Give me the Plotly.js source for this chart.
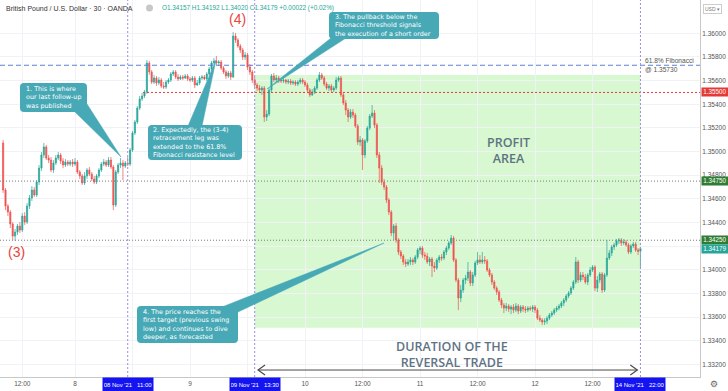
<!DOCTYPE html>
<html><head><meta charset="utf-8">
<script src="https://cdn.plot.ly/plotly-3.0.1.min.js"></script>
<style>html,body{margin:0;padding:0;background:#fff;}#chart{width:728px;height:391px;}</style>
</head><body><div id="chart"></div>
<script>
// 30-minute GBP/USD candles, first bar = 07 Nov 2021 (bar 0 = 08 Nov 00:00)
const openP = [
1.35073,1.34675,1.34539,1.34488,1.34387,1.34285,1.34319,1.34370,1.34336,1.34454,
1.34404,1.34539,1.34607,1.34675,1.34633,1.34742,1.34860,1.34971,1.35039,1.34945,
1.34928,1.34844,1.34903,1.34945,1.34971,1.34920,1.34886,1.34911,1.34894,1.34911,
1.34894,1.34911,1.34827,1.34793,1.34734,1.34793,1.34844,1.34810,1.34768,1.34742,
1.34793,1.34844,1.34894,1.34911,1.34886,1.34928,1.34869,1.34548,1.34827,1.34886,
1.34903,1.34877,1.34903,1.34894,1.35013,1.35157,1.35250,1.35368,1.35445,1.35470,
1.35504,1.35749,1.35673,1.35588,1.35622,1.35580,1.35605,1.35554,1.35546,1.35588,
1.35605,1.35656,1.35673,1.35631,1.35614,1.35631,1.35622,1.35639,1.35614,1.35605,
1.35622,1.35563,1.35580,1.35622,1.35631,1.35614,1.35656,1.35698,1.35749,1.35766,
1.35749,1.35757,1.35706,1.35673,1.35639,1.35665,1.35631,1.35977,1.35944,1.35893,
1.35859,1.35799,1.35817,1.35715,1.35673,1.35605,1.35563,1.35537,1.35521,1.35537,
1.35292,1.35317,1.35521,1.35639,1.35605,1.35622,1.35605,1.35597,1.35605,1.35588,
1.35597,1.35580,1.35588,1.35571,1.35588,1.35605,1.35588,1.35563,1.35521,1.35479,
1.35504,1.35537,1.35605,1.35648,1.35622,1.35571,1.35537,1.35554,1.35521,1.35537,
1.35605,1.35622,1.35479,1.35411,1.35351,1.35292,1.35334,1.35309,1.35216,1.35081,
1.35098,1.34971,1.35090,1.35199,1.35300,1.35326,1.35225,1.34971,1.34860,1.34742,
1.34700,1.34590,1.34488,1.34311,1.34370,1.34252,1.34150,1.34116,1.34066,1.34049,
1.34066,1.34083,1.34066,1.34108,1.34167,1.34184,1.34125,1.34116,1.34066,1.34091,
1.34032,1.34015,1.34083,1.34108,1.34099,1.34150,1.34184,1.34227,1.34268,1.34083,
1.33913,1.33761,1.33829,1.33913,1.33930,1.33981,1.33888,1.33956,1.34058,1.34083,
1.34066,1.34083,1.34075,1.33998,1.33956,1.33896,1.33845,1.33812,1.33744,1.33702,
1.33676,1.33693,1.33668,1.33685,1.33659,1.33693,1.33651,1.33685,1.33668,1.33659,
1.33676,1.33668,1.33685,1.33659,1.33591,1.33575,1.33558,1.33567,1.33591,1.33617,
1.33634,1.33659,1.33676,1.33693,1.33719,1.33744,1.33778,1.33804,1.33845,1.33896,
1.34066,1.33913,1.33956,1.33939,1.33896,1.33956,1.33998,1.34023,1.33845,1.33913,
1.33964,1.33829,1.33956,1.34099,1.34142,1.34193,1.34210,1.34244,1.34252,1.34227,
1.34235,1.34210,1.34150,1.34201,1.34218,1.34167,1.34157
];
const highP = [
1.35098,1.34691,1.34556,1.34505,1.34404,1.34345,1.34387,1.34404,1.34480,1.34488,
1.34565,1.34633,1.34708,1.34700,1.34759,1.34886,1.34996,1.35073,1.35056,1.34971,
1.34954,1.34928,1.34971,1.34996,1.34988,1.34945,1.34937,1.34928,1.34928,1.34937,
1.34945,1.34928,1.34844,1.34810,1.34827,1.34860,1.34869,1.34827,1.34793,1.34810,
1.34860,1.34911,1.34937,1.34928,1.34954,1.34954,1.34886,1.34844,1.34903,1.34945,
1.34928,1.34920,1.34954,1.35030,1.35174,1.35267,1.35385,1.35470,1.35496,1.35521,
1.35774,1.35766,1.35690,1.35648,1.35639,1.35631,1.35622,1.35588,1.35605,1.35622,
1.35673,1.35690,1.35690,1.35656,1.35648,1.35648,1.35656,1.35656,1.35631,1.35639,
1.35639,1.35605,1.35639,1.35648,1.35648,1.35673,1.35715,1.35766,1.35791,1.35808,
1.35774,1.35774,1.35723,1.35690,1.35682,1.35682,1.36011,1.36003,1.35960,1.35910,
1.35876,1.35842,1.35834,1.35740,1.35690,1.35631,1.35580,1.35563,1.35554,1.35554,
1.35351,1.35537,1.35656,1.35665,1.35648,1.35639,1.35622,1.35622,1.35614,1.35614,
1.35614,1.35605,1.35605,1.35605,1.35622,1.35622,1.35605,1.35580,1.35537,1.35529,
1.35554,1.35622,1.35673,1.35665,1.35639,1.35588,1.35571,1.35571,1.35554,1.35631,
1.35639,1.35639,1.35496,1.35436,1.35368,1.35360,1.35360,1.35326,1.35233,1.35131,
1.35114,1.35106,1.35216,1.35317,1.35394,1.35351,1.35242,1.34996,1.34886,1.34768,
1.34717,1.34607,1.34505,1.34387,1.34396,1.34268,1.34167,1.34133,1.34091,1.34091,
1.34108,1.34099,1.34125,1.34184,1.34201,1.34201,1.34150,1.34142,1.34108,1.34108,
1.34066,1.34099,1.34125,1.34133,1.34167,1.34201,1.34244,1.34294,1.34285,1.34099,
1.33930,1.33871,1.33930,1.33956,1.34066,1.33998,1.33981,1.34075,1.34150,1.34125,
1.34150,1.34116,1.34091,1.34015,1.33973,1.33913,1.33862,1.33829,1.33761,1.33719,
1.33719,1.33710,1.33702,1.33710,1.33719,1.33710,1.33702,1.33702,1.33693,1.33693,
1.33693,1.33702,1.33702,1.33676,1.33617,1.33591,1.33591,1.33608,1.33634,1.33651,
1.33676,1.33693,1.33710,1.33736,1.33761,1.33795,1.33820,1.33862,1.33913,1.34108,
1.34083,1.33981,1.33981,1.33964,1.33973,1.34023,1.34040,1.34040,1.33947,1.33981,
1.33981,1.33973,1.34252,1.34167,1.34210,1.34227,1.34260,1.34268,1.34268,1.34260,
1.34252,1.34227,1.34218,1.34235,1.34235,1.34184,1.34192
];
const lowP = [
1.34650,1.34505,1.34454,1.34353,1.34252,1.34244,1.34294,1.34311,1.34319,1.34379,
1.34387,1.34514,1.34582,1.34616,1.34616,1.34717,1.34836,1.34945,1.34928,1.34903,
1.34827,1.34819,1.34886,1.34928,1.34894,1.34860,1.34869,1.34877,1.34877,1.34869,
1.34877,1.34810,1.34768,1.34717,1.34717,1.34768,1.34793,1.34751,1.34725,1.34725,
1.34776,1.34827,1.34877,1.34869,1.34869,1.34852,1.34505,1.34531,1.34810,1.34860,
1.34759,1.34860,1.34877,1.34877,1.34996,1.35140,1.35233,1.35351,1.35428,1.35453,
1.35487,1.35648,1.35571,1.35571,1.35554,1.35563,1.35537,1.35529,1.35529,1.35571,
1.35588,1.35639,1.35614,1.35597,1.35605,1.35605,1.35614,1.35597,1.35588,1.35588,
1.35537,1.35554,1.35563,1.35605,1.35605,1.35597,1.35639,1.35682,1.35732,1.35732,
1.35723,1.35690,1.35656,1.35614,1.35622,1.35605,1.35622,1.35919,1.35876,1.35834,
1.35774,1.35774,1.35690,1.35648,1.35580,1.35537,1.35513,1.35496,1.35479,1.35250,
1.35259,1.35300,1.35504,1.35588,1.35588,1.35580,1.35580,1.35580,1.35571,1.35571,
1.35563,1.35563,1.35554,1.35554,1.35571,1.35571,1.35546,1.35504,1.35462,1.35470,
1.35487,1.35521,1.35588,1.35605,1.35554,1.35521,1.35513,1.35504,1.35504,1.35521,
1.35588,1.35462,1.35394,1.35309,1.35250,1.35275,1.35284,1.35199,1.35056,1.35047,
1.34844,1.34945,1.35073,1.35182,1.35284,1.35199,1.34945,1.34734,1.34717,1.34675,
1.34565,1.34463,1.34285,1.34252,1.34227,1.34125,1.34091,1.34040,1.34023,1.34032,
1.34040,1.34040,1.34049,1.34091,1.34133,1.34099,1.34083,1.34049,1.34032,1.33939,
1.33981,1.33998,1.34058,1.34075,1.34083,1.34125,1.34167,1.34210,1.34066,1.33896,
1.33659,1.33727,1.33804,1.33879,1.33905,1.33862,1.33862,1.33939,1.34040,1.34049,
1.34049,1.34049,1.33981,1.33939,1.33871,1.33829,1.33787,1.33727,1.33676,1.33634,
1.33651,1.33642,1.33625,1.33634,1.33642,1.33625,1.33634,1.33642,1.33634,1.33642,
1.33651,1.33642,1.33634,1.33575,1.33558,1.33533,1.33533,1.33541,1.33575,1.33600,
1.33617,1.33642,1.33659,1.33676,1.33693,1.33727,1.33761,1.33787,1.33829,1.33879,
1.33888,1.33896,1.33913,1.33879,1.33871,1.33939,1.33981,1.33820,1.33812,1.33888,
1.33804,1.33812,1.33939,1.34083,1.34116,1.34167,1.34193,1.34218,1.34201,1.34210,
1.34193,1.34133,1.34133,1.34184,1.34150,1.34125,1.34020
];
const closeP = [
1.34675,1.34539,1.34488,1.34387,1.34285,1.34319,1.34370,1.34336,1.34454,1.34404,
1.34539,1.34607,1.34675,1.34633,1.34742,1.34860,1.34971,1.35039,1.34945,1.34928,
1.34844,1.34903,1.34945,1.34971,1.34920,1.34886,1.34911,1.34894,1.34911,1.34894,
1.34911,1.34827,1.34793,1.34734,1.34793,1.34844,1.34810,1.34768,1.34742,1.34793,
1.34844,1.34894,1.34911,1.34886,1.34928,1.34869,1.34548,1.34827,1.34886,1.34903,
1.34877,1.34903,1.34894,1.35013,1.35157,1.35250,1.35368,1.35445,1.35470,1.35504,
1.35749,1.35673,1.35588,1.35622,1.35580,1.35605,1.35554,1.35546,1.35588,1.35605,
1.35656,1.35673,1.35631,1.35614,1.35631,1.35622,1.35639,1.35614,1.35605,1.35622,
1.35563,1.35580,1.35622,1.35631,1.35614,1.35656,1.35698,1.35749,1.35766,1.35749,
1.35757,1.35706,1.35673,1.35639,1.35665,1.35631,1.35977,1.35944,1.35893,1.35859,
1.35799,1.35817,1.35715,1.35673,1.35605,1.35563,1.35537,1.35521,1.35537,1.35292,
1.35317,1.35521,1.35639,1.35605,1.35622,1.35605,1.35597,1.35605,1.35588,1.35597,
1.35580,1.35588,1.35571,1.35588,1.35605,1.35588,1.35563,1.35521,1.35479,1.35504,
1.35537,1.35605,1.35648,1.35622,1.35571,1.35537,1.35554,1.35521,1.35537,1.35605,
1.35622,1.35479,1.35411,1.35351,1.35292,1.35334,1.35309,1.35216,1.35081,1.35098,
1.34971,1.35090,1.35199,1.35300,1.35326,1.35225,1.34971,1.34860,1.34742,1.34700,
1.34590,1.34488,1.34311,1.34370,1.34252,1.34150,1.34116,1.34066,1.34049,1.34066,
1.34083,1.34066,1.34108,1.34167,1.34184,1.34125,1.34116,1.34066,1.34091,1.34032,
1.34015,1.34083,1.34108,1.34099,1.34150,1.34184,1.34227,1.34268,1.34083,1.33913,
1.33761,1.33829,1.33913,1.33930,1.33981,1.33888,1.33956,1.34058,1.34083,1.34066,
1.34083,1.34075,1.33998,1.33956,1.33896,1.33845,1.33812,1.33744,1.33702,1.33676,
1.33693,1.33668,1.33685,1.33659,1.33693,1.33651,1.33685,1.33668,1.33659,1.33676,
1.33668,1.33685,1.33659,1.33591,1.33575,1.33558,1.33567,1.33591,1.33617,1.33634,
1.33659,1.33676,1.33693,1.33719,1.33744,1.33778,1.33804,1.33845,1.33896,1.34066,
1.33913,1.33956,1.33939,1.33896,1.33956,1.33998,1.34023,1.33845,1.33913,1.33964,
1.33829,1.33956,1.34099,1.34142,1.34193,1.34210,1.34244,1.34252,1.34227,1.34235,
1.34210,1.34150,1.34201,1.34218,1.34167,1.34157,1.34179
];
const firstBarOffset = -30;           // bars before 08 Nov 00:00
const barIndex = openP.map((_, k) => k + firstBarOffset);

// tick labels hidden under the blue date badges are left blank (gridline kept)
const xTickIdx  = [-22, 0, 24, 48, 72, 96, 120, 144, 168, 192, 216];
const xTickText = ['12:00','8','','9','','10','12:00','11','12:00','12','12:00'];
const yTickVals = [1.332,1.334,1.336,1.338,1.340,1.342,1.344,1.346,1.348,1.350,1.352,1.354,1.356,1.358,1.360];
const yTickHidden = [1.342];           // covered by the price badges

const fibLevel = 1.35730, entryLevel = 1.35500, levelA = 1.34750, levelB = 1.34250;
const profitTop = 1.35647, profitBottom = 1.33509;
const markerBars = [22, 75, 236];
const markerText = ["08 Nov '21   11:00", "09 Nov '21   13:30", "14 Nov '21   22:00"];
const entryStartBar = 28.4;
const tradeStartBar = 75, tradeEndBar = 236;
const arrowLevel = 1.33152;
const xRange = [-31.3, 260.85];
const yRange = [1.33093, 1.36282];

const callouts = [
  {box:[20,83,87,112], base:[[74,111],[87,104]], tip:[121,157], left:24.5,
   lines:['1. This is where','our last follow-up','was published']},
  {box:[148,125,242,160], base:[[188,126],[202,126]], tip:[216,60], left:151.5,
   lines:['2. Expectedly, the (3-4)','retracement leg was','extended to the 61.8%','Fibonacci resistance level']},
  {box:[329,12,439,39], base:[[331,38],[346,38]], tip:[267,89], left:333.5,
   lines:['3. The pullback below the','Fibonacci threshold signals','the execution of a short order']},
  {box:[137,306,238,343], base:[[222,307],[238,312]], tip:[384,243], left:142,
   lines:['4. The price reaches the','first target (previous swing','low) and continues to dive','deeper, as forecasted']}
];

const W = 700, H = 377;
const X = px => px / W;
const Y = py => 1 - py / H;
const FONT = 'Liberation Sans, Arial, sans-serif';

function rrect(b, r) {
  const [x0,y0,x1,y1] = b;
  return `M${X(x0+r)},${Y(y0)} L${X(x1-r)},${Y(y0)} Q${X(x1)},${Y(y0)} ${X(x1)},${Y(y0+r)} ` +
         `L${X(x1)},${Y(y1-r)} Q${X(x1)},${Y(y1)} ${X(x1-r)},${Y(y1)} L${X(x0+r)},${Y(y1)} ` +
         `Q${X(x0)},${Y(y1)} ${X(x0)},${Y(y1-r)} L${X(x0)},${Y(y0+r)} Q${X(x0)},${Y(y0)} ${X(x0+r)},${Y(y0)} Z`;
}

const teal = '#48a9b6';
const shapes = [];
const annotations = [];

// profit area
shapes.push({type:'rect', xref:'x', yref:'y', x0:tradeStartBar, x1:tradeEndBar, y0:profitBottom, y1:profitTop,
  fillcolor:'rgba(140,235,120,0.35)', line:{width:0}, layer:'below'});
// horizontal levels
shapes.push({type:'line', xref:'paper', yref:'y', x0:0, x1:1, y0:fibLevel, y1:fibLevel, line:{color:'#5d7fd8', width:1, dash:'5px,3px'}});
shapes.push({type:'line', xref:'x', yref:'y', x0:entryStartBar, x1:xRange[1], y0:entryLevel, y1:entryLevel, line:{color:'#e53935', width:1, dash:'2px,2px'}});
shapes.push({type:'line', xref:'paper', yref:'y', x0:0, x1:1, y0:levelA, y1:levelA, line:{color:'#7a7a7a', width:1, dash:'1px,2px'}});
shapes.push({type:'line', xref:'paper', yref:'y', x0:0, x1:1, y0:levelB, y1:levelB, line:{color:'#7a7a7a', width:1, dash:'1px,2px'}});
// vertical time markers
markerBars.forEach(b => shapes.push({type:'line', xref:'x', yref:'paper', x0:b, x1:b, y0:0, y1:1, line:{color:'#9a8de6', width:1, dash:'2px,2px'}}));
// duration double arrow
shapes.push({type:'line', xref:'x', yref:'y', x0:tradeStartBar+1.4, x1:tradeEndBar-1.3, y0:arrowLevel, y1:arrowLevel, line:{color:'#4a4a4a', width:1}});
shapes.push({type:'path', xref:'x', yref:'y', xsizemode:'pixel', ysizemode:'pixel', xanchor:tradeStartBar+1.4, yanchor:arrowLevel,
  path:'M 7 5 L 0 0 L 7 -5', line:{color:'#4a4a4a', width:1.2}});
shapes.push({type:'path', xref:'x', yref:'y', xsizemode:'pixel', ysizemode:'pixel', xanchor:tradeEndBar-1.3, yanchor:arrowLevel,
  path:'M -7 5 L 0 0 L -7 -5', line:{color:'#4a4a4a', width:1.2}});

// callouts
callouts.forEach(c => {
  shapes.push({type:'path', xref:'paper', yref:'paper', path:rrect(c.box, 4), fillcolor:teal, line:{width:0}});
  const [p1,p2] = c.base;
  shapes.push({type:'path', xref:'paper', yref:'paper',
    path:`M${X(p1[0])},${Y(p1[1])} L${X(c.tip[0])},${Y(c.tip[1])} L${X(p2[0])},${Y(p2[1])} Z`,
    fillcolor:teal, line:{color:teal, width:0.5}});
  annotations.push({xref:'paper', yref:'paper', x:X(c.left), y:Y((c.box[1]+c.box[3])/2), xanchor:'left', yanchor:'middle',
    align:'left', text:c.lines.join('<br>'), showarrow:false, borderpad:0,
    font:{family:'DejaVu Sans, Verdana, sans-serif', size:6.4, color:'#ffffff'}});
});

// header
const n = closeP.length - 1;
const chg = closeP[n] - closeP[n-1];
const pct = chg / closeP[n-1] * 100;
annotations.push({xref:'paper', yref:'paper', x:X(4), y:Y(8), xanchor:'left', yanchor:'middle', showarrow:false,
  text:'British Pound / U.S. Dollar · 30 · OANDA', font:{family:FONT, size:7, color:'#333'}});
shapes.push({type:'circle', xref:'paper', yref:'paper', x0:X(146), x1:X(153), y0:Y(11.5), y1:Y(4.5), fillcolor:'#c8c8c8', line:{width:0}});
annotations.push({xref:'paper', yref:'paper', x:X(160), y:Y(8), xanchor:'left', yanchor:'middle', showarrow:false,
  text:`O${openP[n].toFixed(5)} H${highP[n].toFixed(5)} L${lowP[n].toFixed(5)} C${closeP[n].toFixed(5)} ${chg>=0?'+':''}${chg.toFixed(5)} (${pct>=0?'+':''}${pct.toFixed(2)}%)`,
  font:{family:FONT, size:6.4, color:'#26a69a'}});
annotations.push({xref:'paper', yref:'paper', x:X(713), y:Y(8.5), xanchor:'center', yanchor:'middle', showarrow:false,
  text:'USD ▾', font:{family:FONT, size:5, color:'#777'}, bordercolor:'#ccc', borderwidth:1, borderpad:1});

// wave labels
annotations.push({xref:'paper', yref:'paper', x:X(237), y:Y(19), xanchor:'center', yanchor:'middle', showarrow:false, text:'(4)', font:{family:FONT, size:14, color:'#e8453c'}});
annotations.push({xref:'paper', yref:'paper', x:X(16), y:Y(252), xanchor:'center', yanchor:'middle', showarrow:false, text:'(3)', font:{family:FONT, size:14, color:'#e8453c'}});

// fib label
annotations.push({xref:'paper', yref:'paper', x:X(644), y:Y(65), xanchor:'left', yanchor:'middle', align:'left', showarrow:false, borderpad:0,
  text:'61.8% Fibonacci<br>@ ' + fibLevel.toFixed(5), font:{family:FONT, size:6.6, color:'#555'}});

// big labels (two lines each)
const bigFont = {family:'Open Sans, sans-serif', size:12.5, color:'#5f7384', weight:600};
const big = (x, y, t) => annotations.push({xref:'paper', yref:'paper', x:X(x), y:Y(y), xanchor:'center', yanchor:'middle',
  align:'center', borderpad:0, showarrow:false, text:t, font:bigFont});
big(509, 150.5, 'PROFIT<br>AREA');
big(452, 354, 'DURATION OF THE<br>REVERSAL TRADE');

// price axis labels
[[entryLevel,'#e53935'],[levelA,'#2e7d32'],[levelB,'#2e7d32'],[closeP[n],'#26a69a']].forEach(([v,col]) => {
  annotations.push({xref:'paper', yref:'y', x:X(701), y:v, xanchor:'left', yanchor:'middle', showarrow:false,
    text:v.toFixed(5), width:25, height:7, bgcolor:col, borderpad:0.3, font:{family:FONT, size:6.3, color:'#fff'}});
});
// time axis labels
markerBars.forEach((b,k) => annotations.push({xref:'x', yref:'paper', x:b, y:Y(384), xanchor:'center', yanchor:'middle', showarrow:false,
  text:markerText[k], width:48, height:11, bgcolor:'#1414f0', font:{family:FONT, size:6, color:'#fff'}}));
// gear
annotations.push({xref:'paper', yref:'paper', x:X(714), y:Y(384), xanchor:'center', yanchor:'middle', showarrow:false, text:'⚙', font:{family:'DejaVu Sans', size:9, color:'#666'}});

const trace = {
  type:'candlestick', x:barIndex, open:openP, high:highP, low:lowP, close:closeP,
  increasing:{line:{color:'#26a69a', width:0.7}, fillcolor:'#26a69a'},
  decreasing:{line:{color:'#ef5350', width:0.7}, fillcolor:'#ef5350'},
  whiskerwidth:0, hoverinfo:'skip', showlegend:false
};

const layout = {
  width:728, height:391,
  margin:{l:0, r:28, t:0, b:14, pad:0},
  paper_bgcolor:'#ffffff', plot_bgcolor:'#ffffff',
  showlegend:false,
  xaxis:{range:xRange, rangeslider:{visible:false}, tickmode:'array', tickvals:xTickIdx, ticktext:xTickText,
    showgrid:true, gridcolor:'#f0f2f6', gridwidth:1, zeroline:false, showline:true, linecolor:'#c8c8c8', linewidth:1,
    ticks:'', tickfont:{family:FONT, size:6.5, color:'#555'}, fixedrange:true, automargin:false},
  yaxis:{range:yRange, side:'right', tickmode:'array', tickvals:yTickVals,
    ticktext:yTickVals.map(v => yTickHidden.includes(v) ? '' : v.toFixed(5)),
    showgrid:true, gridcolor:'#f0f2f6', gridwidth:1, zeroline:false, showline:true, linecolor:'#c8c8c8', linewidth:1,
    ticks:'', tickfont:{family:FONT, size:6.5, color:'#555'}, fixedrange:true, automargin:false},
  shapes:shapes, annotations:annotations,
  hovermode:false
};

Plotly.newPlot('chart', [trace], layout, {displayModeBar:false, staticPlot:true});
</script>
</body></html>
